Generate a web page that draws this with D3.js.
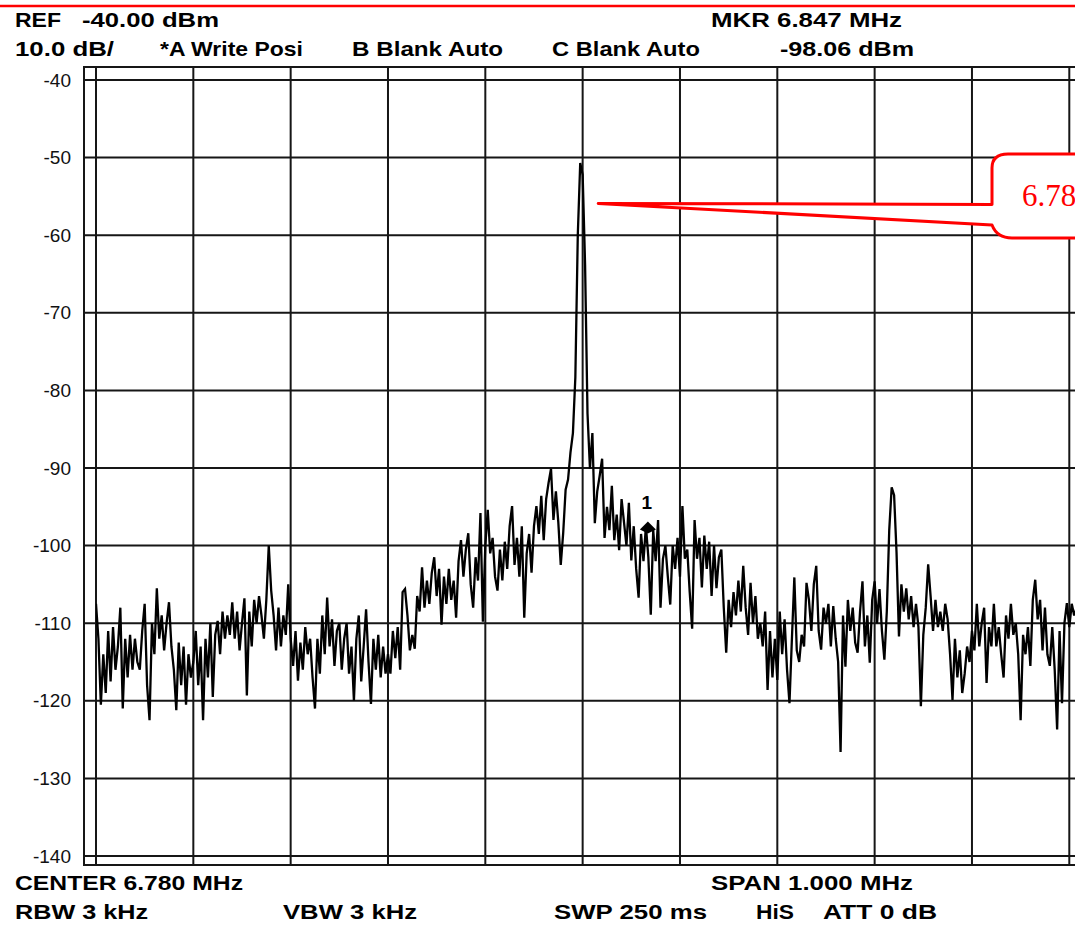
<!DOCTYPE html>
<html><head><meta charset="utf-8">
<script src="https://cdn.jsdelivr.net/npm/d3@7"></script>
<style>html,body{margin:0;padding:0;background:#fff;overflow:hidden}</style>
</head><body>
<svg id="c" width="1075" height="925"></svg>
<script>
// ---------- data ----------
const startFreq = 6.28;      // MHz, left edge of graticule
const stepFreq = 0.0025;     // MHz per trace point
const levels = [
 -107.5,-112,-120.5,-114,-119,-111,-117.5,-110.5,-116,-113,
 -108,-121,-112,-117,-111.5,-116,-112,-115,-116,-111,
 -107.5,-118,-122.5,-110,-114,-105.5,-112,-109,-113.5,-110,
 -107.3,-113,-116,-121.2,-112.5,-118,-113,-120.5,-114,-117,
 -115,-111,-118,-113,-122.5,-112,-117,-110,-119.5,-111.5,
 -109.7,-114,-108.5,-112,-109,-111.5,-107.3,-112,-108.5,-113.5,
 -110,-106.8,-119.3,-108.5,-113,-107,-110,-106.5,-109,-112,
 -107,-100,-105.8,-109,-113.5,-108,-113,-109,-111.5,-105,
 -112,-115.5,-111,-117.4,-112.5,-116,-110.5,-114,-112,-117,
 -121,-112,-116.5,-109,-114,-106.7,-113,-109.5,-115.5,-111,
 -110,-116,-112,-110,-116.5,-113,-120,-112,-109,-117.5,
 -113,-108.2,-115,-120.4,-112,-116,-111.5,-117,-113,-116.5,
 -114,-116.5,-111,-114.5,-110.5,-116,-106,-105.6,-109,-113.5,
 -111.5,-113.3,-106.5,-108.5,-102.8,-108,-104.5,-107.5,-103.5,-101.5,
 -106.5,-103,-110.2,-104,-107.5,-103,-107,-104.5,-109.3,-102,
 -99.3,-104,-100.5,-98.4,-105,-108,-101.5,-104.5,-95.8,-109.8,
 -100,-95.4,-101,-99,-104,-105.8,-100.5,-104.5,-99.5,-103,
 -97.5,-94.9,-102.5,-99,-104,-97.5,-109.3,-101,-98.5,-103.5,
 -97.5,-94.9,-98.5,-93.6,-99.3,-94,-91.9,-90.1,-96.7,-93,
 -97,-102.5,-98.4,-92.8,-91.5,-88,-85.5,-78.3,-60,-50.7,
 -52.2,-63.8,-83,-90.1,-85.5,-97.1,-93,-91,-88.8,-99,
 -95,-98,-92.3,-99.3,-96,-100.6,-94,-97,-100,-94.5,
 -101.9,-97.5,-103,-106.7,-98.5,-102,-97.5,-101.5,-108.9,-98,
 -102,-96.7,-108,-101.7,-100,-104,-107.6,-100,-103,-99,
 -104,-94.9,-101.7,-100.5,-106,-110.7,-96.7,-101.7,-99,-105.4,
 -98.7,-103,-99.5,-106.5,-100,-105.5,-101.5,-100.5,-108,-113.8,
 -107,-110.5,-106,-109,-104.5,-108.5,-102.6,-108,-111.5,-104.8,
 -110,-106.5,-112,-110,-113,-108.5,-118.6,-111,-117,-112,
 -117.3,-108.5,-114,-109.5,-116,-120.3,-112,-104.1,-113.5,-115,
 -111.5,-113,-104.8,-107,-111,-105,-102.6,-111,-113.4,-108,
 -110,-107.5,-113,-107.8,-112,-115,-126.6,-109,-115.6,-107,
 -111,-108,-112.5,-113.8,-108.5,-104.6,-113,-109,-115.1,-107,
 -104.6,-110,-105.6,-111,-114.7,-108.5,-98,-92.5,-93.5,-100.9,
 -111.7,-105,-108.5,-105.5,-109.5,-106.5,-110.5,-107.5,-110.5,-120.7,
 -111.5,-108,-102.4,-106.5,-111,-107,-110.5,-108.5,-111,-107.5,
 -109.5,-114,-119.9,-112,-117,-113.5,-119,-116.5,-113,-115,
 -111,-113.5,-107.5,-113,-110,-108,-117.7,-110.5,-113,-107.5,
 -113,-110.5,-114,-117,-109,-112,-107.5,-111.5,-110,-114,
 -122.5,-111.5,-114,-110.5,-115.5,-107,-104.4,-109.5,-107,-113.5,
 -108,-114,-115.5,-110.5,-116,-123.7,-111,-120.3,-110,-107.4,
 -110.5,-107.5,-109,-108
];
const yTicks = [-40,-50,-60,-70,-80,-90,-100,-110,-120,-130,-140];
const xGrid = [6.28,6.38,6.48,6.58,6.68,6.78,6.88,6.98,7.08,7.18,7.28];
const markerFreq = 6.847, markerLevel = -98.06, markerName = "1";
const calloutFreq = 6.796, calloutLevel = -55.9, calloutText = "6.78";
const headerRow1 = ["REF", "-40.00 dBm", "MKR 6.847 MHz"];
const headerRow2 = ["10.0 dB/", "*A Write Posi", "B Blank Auto", "C Blank Auto", "-98.06 dBm"];
const footerRow1 = ["CENTER 6.780 MHz", "SPAN 1.000 MHz"];
const footerRow2 = ["RBW  3 kHz", "VBW  3 kHz", "SWP  250 ms", "HiS", "ATT 0 dB"];

// ---------- layout ----------
const W = 1075, H = 925;
const svg = d3.select("#c");
const x = d3.scaleLinear().domain([6.28, 7.28]).range([96, 1069.3]);
const y = d3.scaleLinear().domain([-140, -40]).range([856, 80]);
const frame = {left: 84, top: 67, bottom: 865};
const gridColor = "#161616";

// red rule at top
svg.append("line").attr("x1",0).attr("x2",W).attr("y1",6).attr("y2",6)
  .attr("stroke","#ff0000").attr("stroke-width",2.6);

// grid
const g = svg.append("g");
g.selectAll("line.h").data(yTicks).join("line")
  .attr("x1", frame.left).attr("x2", W)
  .attr("y1", d => y(d)).attr("y2", d => y(d))
  .attr("stroke", gridColor).attr("stroke-width", 2);
g.selectAll("line.v").data(xGrid).join("line")
  .attr("x1", d => x(d)).attr("x2", d => x(d))
  .attr("y1", frame.top).attr("y2", frame.bottom)
  .attr("stroke", gridColor).attr("stroke-width", 2);
// outer frame
g.append("path")
  .attr("d", `M${W},${frame.top} H${frame.left} V${frame.bottom} H${W}`)
  .attr("fill","none").attr("stroke", gridColor).attr("stroke-width", 2);

// y axis labels (plain hyphen minus as on the instrument)
const yAxis = d3.axisLeft(y).tickValues(yTicks).tickSize(0).tickPadding(13)
  .tickFormat(d => String(d));
const ya = svg.append("g").attr("transform", `translate(${frame.left},0)`).call(yAxis);
ya.select(".domain").remove();
ya.selectAll("text").attr("font-family","Liberation Sans, Arial, sans-serif")
  .attr("font-size", 19).attr("fill", "#111");

// trace
svg.append("clipPath").attr("id","clip").append("rect")
  .attr("x", 96).attr("y", frame.top).attr("width", W - 96).attr("height", frame.bottom - frame.top);
const pts = levels.map((v, i) => ({f: startFreq + i * stepFreq, v}));
svg.append("path").datum(pts)
  .attr("clip-path","url(#clip)")
  .attr("d", d3.line().x(d => x(d.f)).y(d => y(d.v)))
  .attr("fill","none").attr("stroke","#000").attr("stroke-width",2.3)
  .attr("stroke-linejoin","miter").attr("stroke-miterlimit", 3);

// marker
const mx = x(markerFreq), my = y(markerLevel);
svg.append("path")
  .attr("d", `M${mx},${my-9} L${mx+8},${my-1} L${mx},${my+3} L${mx-8},${my-1} Z`)
  .attr("fill","#000");
svg.append("text").attr("x", mx - 1).attr("y", my - 22).text(markerName)
  .attr("font-family","Liberation Sans, Arial, sans-serif").attr("font-weight","bold")
  .attr("font-size", 19).attr("text-anchor","middle");

// callout
const tx = x(calloutFreq), ty = y(calloutLevel);
svg.append("path")
  .attr("d", `M${tx},${ty} L992,${ty+1} L992,168 Q992,154 1008,154 L${W+20},154 L${W+20},238 L1012,238 Q997,238 992,225 Z`)
  .attr("fill","#fff").attr("stroke","#ff0000").attr("stroke-width",3)
  .attr("stroke-linejoin","round");
svg.append("text").attr("x", 1022).attr("y", 206).text(calloutText)
  .attr("font-family","Liberation Serif, Times New Roman, serif")
  .attr("font-size", 31).attr("fill","#ff0000");

// header / footer texts
function txt(s, x0, x1, yb) {
  svg.append("text").attr("x", x0).attr("y", yb).text(s)
    .attr("font-family","Liberation Sans, Arial, sans-serif").attr("font-weight","bold")
    .attr("font-size", 21).attr("fill","#000")
    .attr("textLength", x1 - x0).attr("lengthAdjust","spacingAndGlyphs");
}
const row1Pos = [[15,61],[82,219],[711,902]];
headerRow1.forEach((s,i) => txt(s, row1Pos[i][0], row1Pos[i][1], 27));
const row2Pos = [[15,114],[160,303],[352,503],[552,700],[780,914]];
headerRow2.forEach((s,i) => txt(s, row2Pos[i][0], row2Pos[i][1], 56));
const foot1Pos = [[15,243],[711,913]];
footerRow1.forEach((s,i) => txt(s, foot1Pos[i][0], foot1Pos[i][1], 890));
const foot2Pos = [[15,148],[283,417],[554,707],[756,794],[823,937]];
footerRow2.forEach((s,i) => txt(s, foot2Pos[i][0], foot2Pos[i][1], 919));
</script>
</body></html>
